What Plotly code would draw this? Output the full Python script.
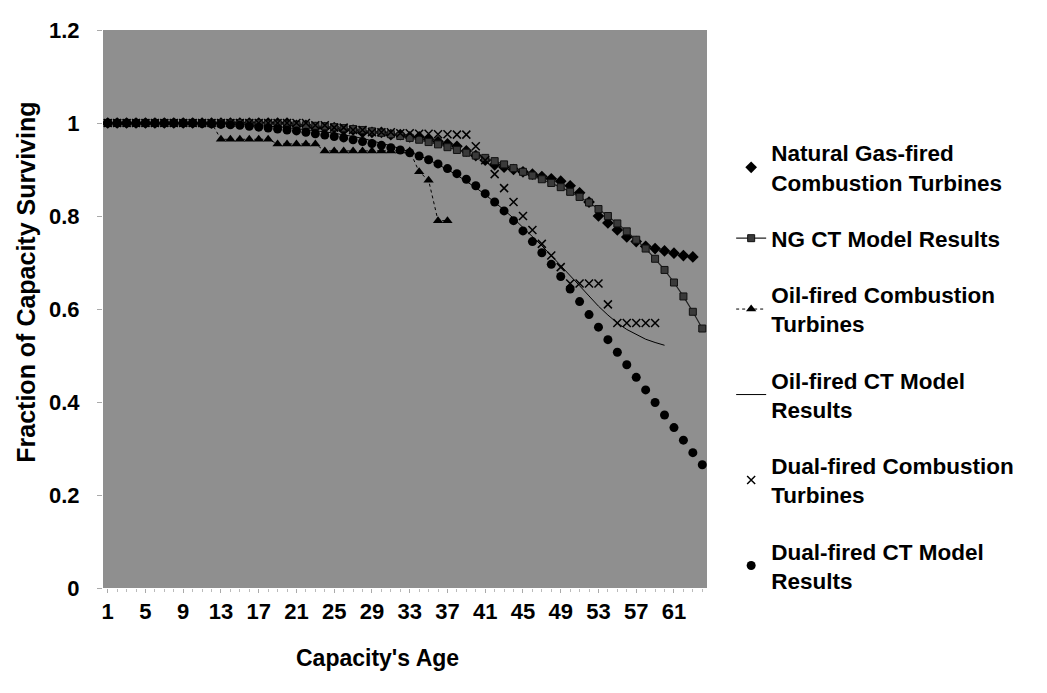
import plotly.graph_objects as go

ages = list(range(1, 65))

# Natural Gas-fired CT data (ages 1-63)
ng_data = [1, 1, 1, 1, 1, 1, 1, 1,
           1, 1, 1, 1, 1, 1, 1, 1,
           1, 1, 1, 1, 0.995, 0.995, 0.99, 0.99,
           0.99, 0.985, 0.985, 0.98, 0.98, 0.98, 0.975, 0.975,
           0.97, 0.97, 0.965, 0.96, 0.955, 0.95, 0.94, 0.93,
           0.92, 0.91, 0.905, 0.9, 0.895, 0.89, 0.885, 0.88,
           0.875, 0.865, 0.85, 0.83, 0.80, 0.785, 0.77, 0.755,
           0.745, 0.735, 0.73, 0.725, 0.72, 0.715, 0.712]
ng_ages = ages[:len(ng_data)]

# NG CT model results (ages 1-64)
ng_model = [1, 1, 1, 1, 1, 1, 1, 1,
            1, 1, 1, 1, 1, 1, 1, 0.999,
            0.999, 0.998, 0.998, 0.997, 0.996, 0.995, 0.994, 0.993,
            0.991, 0.989, 0.987, 0.985, 0.982, 0.979, 0.976, 0.972,
            0.968, 0.964, 0.959, 0.954, 0.948, 0.942, 0.936, 0.93,
            0.925, 0.918, 0.911, 0.903, 0.895, 0.887, 0.879, 0.871,
            0.862, 0.852, 0.841, 0.829, 0.815, 0.80, 0.784, 0.767,
            0.749, 0.73, 0.708, 0.684, 0.657, 0.627, 0.594, 0.558]

# Oil-fired CT data (ages 1-37)
oil_data = [1, 1, 1, 1, 1, 1, 1, 1,
            1, 1, 1, 1, 0.965, 0.965, 0.965, 0.965,
            0.965, 0.965, 0.955, 0.955, 0.955, 0.955, 0.955, 0.94,
            0.94, 0.94, 0.94, 0.94, 0.94, 0.94, 0.94, 0.94,
            0.94, 0.895, 0.877, 0.79, 0.79]
oil_ages = ages[:len(oil_data)]

# Oil-fired CT model results (ages 1-60)
oil_model = [1, 1, 1, 1, 1, 1, 1, 1,
             1, 1, 1, 1, 0.999, 0.998, 0.997, 0.996,
             0.995, 0.994, 0.992, 0.99, 0.988, 0.986, 0.984, 0.981,
             0.978, 0.975, 0.971, 0.967, 0.962, 0.957, 0.951, 0.945,
             0.938, 0.93, 0.921, 0.911, 0.9, 0.888, 0.875, 0.861,
             0.846, 0.83, 0.813, 0.795, 0.776, 0.756, 0.736, 0.715,
             0.694, 0.672, 0.65, 0.628, 0.606, 0.587, 0.57, 0.556,
             0.545, 0.535, 0.528, 0.522]
oil_model_ages = ages[:len(oil_model)]

# Dual-fired CT data (ages 1-59)
dual_data = [1, 1, 1, 1, 1, 1, 1, 1,
             1, 1, 1, 1, 1, 1, 1, 1,
             1, 1, 1, 1, 1, 1, 0.995, 0.995,
             0.99, 0.99, 0.985, 0.985, 0.98, 0.98, 0.98, 0.978,
             0.978, 0.977, 0.977, 0.976, 0.976, 0.975, 0.975, 0.95,
             0.92, 0.89, 0.86, 0.83, 0.80, 0.77, 0.74, 0.715,
             0.69, 0.655, 0.655, 0.655, 0.655, 0.61, 0.57, 0.57,
             0.57, 0.57, 0.57]
dual_ages = ages[:len(dual_data)]

# Dual-fired CT model results (ages 1-64)
dual_model = [1, 1, 1, 1, 1, 1, 1, 1,
              1, 1, 0.999, 0.998, 0.997, 0.996, 0.995, 0.993,
              0.991, 0.989, 0.987, 0.985, 0.983, 0.98, 0.977, 0.974,
              0.971, 0.968, 0.964, 0.96, 0.956, 0.952, 0.947, 0.942,
              0.936, 0.929, 0.921, 0.912, 0.902, 0.891, 0.879, 0.865,
              0.848, 0.83, 0.811, 0.79, 0.768, 0.745, 0.721, 0.696,
              0.67, 0.643, 0.616, 0.588, 0.561, 0.534, 0.507, 0.48,
              0.453, 0.426, 0.399, 0.372, 0.345, 0.318, 0.291, 0.265]

x_ticks = list(range(1, 62, 4))
x_tick_text = [str(t) for t in x_ticks]
y_ticks = [0, 0.2, 0.4, 0.6, 0.8, 1, 1.2]
y_tick_text = ["0", "0.2", "0.4", "0.6", "0.8", "1", "1.2"]

FONT = "Liberation Sans, Arial, sans-serif"

fig = go.Figure()

fig.add_trace(go.Scatter(
    x=ng_ages, y=ng_data, mode="markers", name="Natural Gas-fired<br>Combustion Turbines",
    legendgroup="a", marker=dict(symbol="diamond", size=9, color="black")))
fig.add_trace(go.Scatter(
    x=ages, y=ng_model, mode="lines+markers", name="NG CT Model Results",
    legendgroup="b", line=dict(color="#222222", width=1.2),
    marker=dict(symbol="square", size=7, color="#3a3a3a", line=dict(color="#111111", width=1))))
fig.add_trace(go.Scatter(
    x=oil_ages, y=oil_data, mode="lines+markers", name="Oil-fired Combustion<br>Turbines",
    legendgroup="c", line=dict(color="black", width=1, dash="dot"),
    marker=dict(symbol="triangle-up", size=9, color="black")))
fig.add_trace(go.Scatter(
    x=oil_model_ages, y=oil_model, mode="lines", name="Oil-fired CT Model<br>Results",
    legendgroup="d", line=dict(color="black", width=1)))
fig.add_trace(go.Scatter(
    x=dual_ages, y=dual_data, mode="markers", name="Dual-fired Combustion<br>Turbines",
    legendgroup="e", marker=dict(symbol="x-thin-open", size=8, color="black",
                                 line=dict(color="black", width=1.5))))
fig.add_trace(go.Scatter(
    x=ages, y=dual_model, mode="markers", name="Dual-fired CT Model<br>Results",
    legendgroup="f", marker=dict(symbol="circle", size=9, color="black")))

fig.update_layout(
    width=1047, height=693,
    margin=dict(l=95, r=348, t=22, b=113),
    paper_bgcolor="white",
    plot_bgcolor="#8f8f8f",
    font=dict(family=FONT, color="black", size=22),
    showlegend=True,
    legend=dict(
        x=1.04, y=0.818, xanchor="left", yanchor="top",
        font=dict(size=22.5, family=FONT, weight="bold", color="black"),
        tracegroupgap=24, bgcolor="rgba(0,0,0,0)", itemwidth=30,
    ),
    annotations=[
        dict(text="Fraction of Capacity Surviving", textangle=-90,
             xref="paper", x=-0.128, xanchor="center",
             yref="y", y=0.658, yanchor="middle", showarrow=False,
             font=dict(size=25, weight="bold", family=FONT, color="black")),
        dict(text="Capacity's Age",
             xref="x", x=29.6, xanchor="center",
             yref="paper", y=-0.125, yanchor="middle", showarrow=False,
             font=dict(size=23, weight="bold", family=FONT, color="black")),
    ],
)

fig.update_xaxes(
    range=[0.5, 64.5], tickmode="array", tickvals=x_ticks, ticktext=x_tick_text,
    showgrid=False, zeroline=False, showline=False, automargin=False,
    ticks="outside", ticklen=4, tickcolor="#aaaaaa",
    minor=dict(dtick=1, tick0=1, ticks="outside", ticklen=3, tickcolor="#bbbbbb", showgrid=False),
    tickfont=dict(size=22, weight="bold", family=FONT),
)
fig.update_yaxes(
    range=[0, 1.2], tickmode="array", tickvals=y_ticks, ticktext=y_tick_text,
    showgrid=False, zeroline=False, showline=False, automargin=False,
    ticks="outside", ticklen=5, tickcolor="#aaaaaa", ticklabelstandoff=13,
    tickfont=dict(size=22, weight="bold", family=FONT),
)

fig.write_html("out.html")
